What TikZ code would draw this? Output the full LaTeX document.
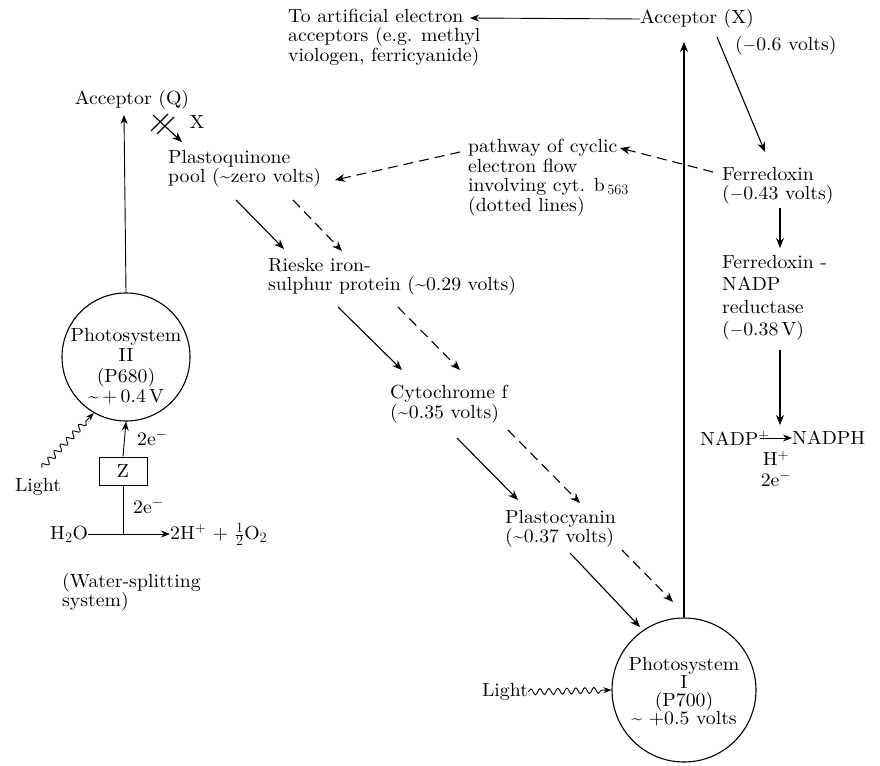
\documentclass[tikz,border=0pt]{standalone}
\usepackage{fontspec}
\setmainfont{lmroman10-regular.otf}[FakeStretch=1.04,BoldFont=lmroman10-bold.otf,ItalicFont=lmroman10-italic.otf]
\usetikzlibrary{arrows.meta,decorations.pathmorphing,calc}
\begin{document}
\begin{tikzpicture}[x=1pt,y=-1pt,
  lbl/.style={inner sep=0pt,font=\fontsize{19}{19.5}\selectfont,align=left},
  ctr/.style={lbl,align=center},
  arr/.style={line width=1.1pt,-{Stealth[length=10pt,width=8pt]}},
  thin arr/.style={line width=0.9pt,-{Stealth[length=9pt,width=7pt]}},
  darr/.style={arr,dash pattern=on 10pt off 6pt},
  wave/.style={line width=0.9pt,decorate,decoration={snake,segment length=9pt,amplitude=3pt,post length=7pt},-{Stealth[length=8pt,width=6pt]}},
  psys/.style={circle,draw,line width=1.1pt,inner sep=0pt}]
\useasboundingbox (0,0) rectangle (880,765);

% ---------- text nodes ----------
\node[lbl,anchor=north west,font=\fontsize{19}{18.5}\selectfont] (art) at (288,9) {To artificial electron\\acceptors (e.g. methyl\\viologen, ferricyanide)};
\node[lbl] (accX) at (697,19) {Acceptor (X)};
\node[lbl,anchor=west] (v06) at (735,46) {($-$0.6 volts)};
\node[lbl,anchor=north west] (fd) at (722,167) {Ferredoxin\\($-$0.43 volts)};
\node[lbl,anchor=north west,font=\fontsize{19}{22.5}\selectfont] (fnr) at (722,255) {Ferredoxin -\\NADP\\reductase\\($-$0.38\,V)};
\node[lbl,anchor=west] (nadp) at (700,438) {NADP$^+$};
\node[lbl,anchor=west] (nadph) at (792,438) {NADPH};
\node[lbl] (hplus) at (776,458) {H$^+$};
\node[lbl] (etwo) at (776,479) {2e$^-$};
\node[lbl,anchor=north west] (path) at (468,139) {pathway of cyclic\\electron flow\\involving cyt. b$_{\,563}$\\(dotted lines)};
\node[lbl] (accQ) at (132,100) {Acceptor (Q)};
\node[lbl] (xmark) at (197,122) {X};
\node[lbl,anchor=north west] (pq) at (168,150) {Plastoquinone\\pool (\textasciitilde zero volts)};
\node[lbl,anchor=north west] (rieske) at (268,258) {Rieske iron-\\sulphur protein (\textasciitilde 0.29 volts)};
\node[lbl,anchor=north west] (cyt) at (390,385) {Cytochrome f\\(\textasciitilde 0.35 volts)};
\node[lbl,anchor=north west] (pc) at (505,510) {Plastocyanin\\(\textasciitilde 0.37 volts)};

% ---------- photosystems ----------
\node[psys,minimum size=128pt] (psII) at (126,357) {};
\node[ctr,font=\fontsize{19}{20.5}\selectfont] (psIItext) at (126,366) {Photosystem\\II\\(P680)\\\textasciitilde\,+\,0.4\,V};
\node[psys,minimum size=144pt] (psI) at (684,690) {};
\node[ctr,font=\fontsize{19}{18}\selectfont] (psItext) at (684,692) {Photosystem\\I\\(P700)\\\textasciitilde\ +0.5 volts};

\node[lbl] (light1) at (38,487) {Light};
\node[lbl] (light2) at (505,692) {Light};

% ---------- water splitting ----------
\node[draw,line width=1pt,minimum width=48pt,minimum height=28pt,inner sep=0pt,font=\fontsize{19}{19.5}\selectfont] (z) at (123,471) {Z};
\node[lbl,anchor=west] (e1) at (137,438) {2e$^-$};
\node[lbl,anchor=west] (e2) at (133,506) {2e$^-$};
\node[lbl,anchor=west] (water) at (50,534) {H$_2$O};
\node[lbl,anchor=west] (prod) at (170,534) {2H$^+$ + $\frac{1}{2}$O$_2$};
\node[lbl,anchor=north west] (ws) at (62,573) {(Water-splitting\\system)};

% ---------- coordinates ----------
\coordinate (artin) at (470,18);
\coordinate (xin) at (684,42);
\coordinate (xout) at (717,37);
\coordinate (fdin) at (765,152);
\coordinate (fdout1) at (780,208);
\coordinate (fnrin) at (780,248);
\coordinate (fnrout) at (780,350);
\coordinate (nadpin) at (780,425);
\coordinate (fdout2) at (713,172);
\coordinate (pathin) at (620,148);
\coordinate (pathout) at (460,152);
\coordinate (pqin) at (335,180);
\coordinate (qin) at (124,115);
\coordinate (qout) at (153,115);
\coordinate (pqin2) at (182,142);
\coordinate (s1a) at (151,131); \coordinate (s1b) at (168,114);
\coordinate (s2a) at (157,134); \coordinate (s2b) at (174,117);

% ---------- connectors ----------
\draw[thin arr] (accX.west) -- (artin);
\draw[arr] (psI.north) -- (xin);
\draw[arr] (xout) -- (fdin);
\draw[arr] (fdout1) -- (fnrin);
\draw[arr] (fnrout) -- (nadpin);
\draw[thin arr] ([xshift=-10pt]nadp.east) -- (nadph.west);
\draw[darr] (fdout2) -- (pathin);
\draw[darr] (pathout) -- (pqin);
\draw[thin arr] (psII.north) -- (qin);
\draw[arr] (qout) -- (pqin2);
\draw[line width=1.1pt] (s1a) -- (s1b) (s2a) -- (s2b);

\draw[arr] (236,200) -- (284,249);
\draw[darr] (293,200) -- (342,251);
\draw[arr] (338,307) -- (402,370);
\draw[darr] (398,307) -- (460,370);
\draw[arr] (457,438) -- (518,500);
\draw[darr] (508,430) -- (580,503);
\draw[arr] (570,553) -- (640,627);
\draw[darr] (622,550) -- (673,602);

\draw[wave] (42,468) -- (psII.240);
\draw[wave] (light2.east) -- (psI.west);

\draw[thin arr] (z.north) -- (psII.south);
\draw[line width=0.9pt] (z.south) -- (z.south |- water.east);
\draw[thin arr] (water.east) -- (prod.west);
\end{tikzpicture}
\end{document}
